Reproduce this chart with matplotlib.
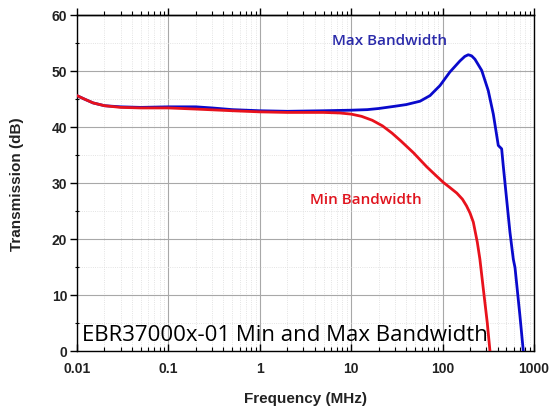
import matplotlib
matplotlib.use('Agg')
from matplotlib import pyplot as plt
from matplotlib.ticker import LogLocator, NullFormatter, FixedLocator
import numpy as np

# Max bandwidth curve (blue)
max_freq = [0.01, 0.012, 0.015, 0.02, 0.03, 0.05, 0.1, 0.2, 0.3, 0.5, 1, 2, 5, 10, 15, 20, 30, 40,
            56.6, 72.8, 93.7, 120, 155, 175, 191, 208, 226, 268, 316, 359, 407, 443, 461, 502,
            546, 594, 620, 700, 764]
max_db = [45.6, 45.0, 44.3, 43.8, 43.6, 43.5, 43.6, 43.6, 43.4, 43.1, 42.9, 42.8, 42.9, 43.0, 43.1,
          43.3, 43.7, 44.0, 44.6, 45.6, 47.4, 49.8, 51.8, 52.6, 52.9, 52.7, 52.1, 50.1, 46.5, 42.3,
          36.7, 36.1, 33.1, 27.1, 21.2, 16.4, 14.9, 6.5, 0]

# Min bandwidth curve (red)
min_freq = [0.01, 0.012, 0.015, 0.02, 0.03, 0.05, 0.1, 0.2, 0.5, 1, 2, 5, 7.5, 10, 13, 17, 22,
            28, 35, 48, 67, 85, 102, 120, 143, 165, 183, 200, 217, 240, 256, 279, 308, 330]
min_db = [45.6, 45.0, 44.3, 43.8, 43.5, 43.4, 43.4, 43.2, 42.9, 42.7, 42.6, 42.6, 42.5, 42.3, 41.9,
          41.2, 40.2, 38.9, 37.5, 35.4, 32.9, 31.3, 30.1, 29.2, 28.2, 27.1, 25.9, 24.6, 23.0, 19.4,
          16.4, 11.1, 5.1, 0]

xticks = [0.01, 0.1, 1, 10, 100, 1000]
xtick_labels = ['0.01', '0.1', '1', '10', '100', '1000']
yticks = [0, 10, 20, 30, 40, 50, 60]

fig = plt.figure(figsize=(5.53, 4.10), dpi=100)
ax = fig.add_axes([0.1392, 0.1415, 0.9656 - 0.1392, 0.961 - 0.1415])

ax.plot(max_freq, max_db, color='#0A0ACC', linewidth=2.0, zorder=3, solid_joinstyle='round')
ax.plot(min_freq, min_db, color='#E8121C', linewidth=2.0, zorder=4, solid_joinstyle='round')

ax.set_xscale('log')
ax.set_xlim(0.01, 1000)
ax.set_ylim(0, 60)
ax.set_xticks(xticks)
ax.set_xticklabels(xtick_labels)
ax.xaxis.set_minor_locator(LogLocator(base=10, subs=np.arange(2, 10)))
ax.xaxis.set_minor_formatter(NullFormatter())
ax.set_yticks(yticks)
ax.yaxis.set_minor_locator(FixedLocator(np.arange(5, 60, 10)))

ax.grid(which='major', color='#A8A8A8', linewidth=0.8, linestyle='-')
ax.grid(which='minor', color='#DADADA', linewidth=0.6, linestyle=':')
ax.set_axisbelow(True)

for s in ['left', 'bottom', 'top', 'right']:
    ax.spines[s].set_linewidth(1.0)
    ax.spines[s].set_color('black')

tick_font = {'family': 'Liberation Sans', 'weight': 'bold', 'size': 10}
ax.tick_params(axis='x', which='major', direction='in', length=5, width=1, pad=7, top=False)
ax.tick_params(axis='x', which='minor', direction='in', length=3, width=0.8, top=False)
ax.tick_params(axis='y', which='major', direction='out', length=5, width=1, pad=2, right=False)
ax.tick_params(axis='y', which='minor', direction='inout', length=3, width=0.8, right=False)
for lab in ax.get_xticklabels() + ax.get_yticklabels():
    lab.set_fontproperties(tick_font)
    lab.set_color('#222222')

top = ax.secondary_xaxis('top')
top.set_xticks(xticks)
top.xaxis.set_minor_locator(LogLocator(base=10, subs=np.arange(2, 10)))
top.tick_params(axis='x', which='major', direction='out', length=5, width=1, labeltop=False)
top.tick_params(axis='x', which='minor', direction='out', length=3, width=0.8, labeltop=False)
top.xaxis.set_minor_formatter(NullFormatter())
top.spines['top'].set_linewidth(1.0)

ax.set_xlabel('Frequency (MHz)', fontfamily='Liberation Sans', fontweight='bold', fontsize=11,
              color='#222222', labelpad=12)
ax.set_ylabel('Transmission (dB)', fontfamily='Liberation Sans', fontweight='bold', fontsize=11,
              color='#222222', labelpad=20)

ax.text(0.557, 55.5, 'Max Bandwidth', transform=ax.get_yaxis_transform(), fontfamily='Open Sans',
        fontweight='semibold', fontsize=11, color='#2A2AAA', va='center', ha='left')
ax.text(0.51, 27.1, 'Min Bandwidth', transform=ax.get_yaxis_transform(), fontfamily='Open Sans',
        fontweight='semibold', fontsize=11, color='#E0141E', va='center', ha='left')
ax.text(0.012, 1.9, 'EBR37000x-01 Min and Max Bandwidth', transform=ax.get_yaxis_transform(),
        fontfamily='Open Sans', fontsize=16, color='black', va='baseline', ha='left')

fig.savefig('out.png', dpi=100, facecolor='white')
